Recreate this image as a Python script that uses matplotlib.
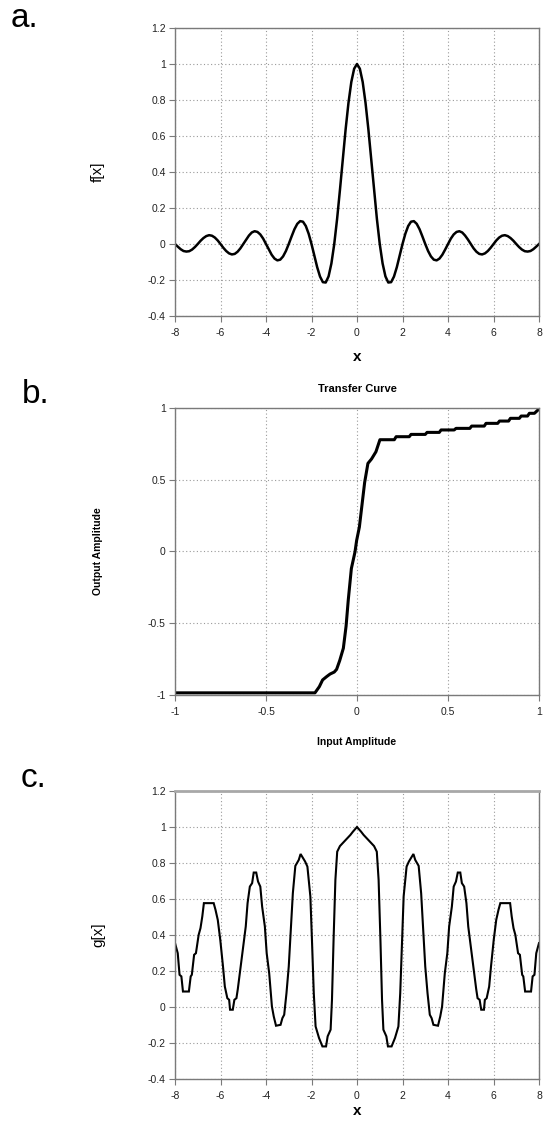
import numpy as np
import matplotlib
matplotlib.use("Agg")
import matplotlib.pyplot as plt

plt.rcParams['font.family'] = ['Liberation Sans', 'DejaVu Sans']

# ---------------- data ----------------
# panel a: f[x], sampled every 1/8 from -8 to 8
f_vals = [
    0.000, -0.015, -0.029, -0.039, -0.042, -0.040, -0.031, -0.017,
    0.000, 0.018, 0.033, 0.044, 0.049, 0.046, 0.036, 0.020,
    0.000, -0.021, -0.039, -0.052, -0.058, -0.055, -0.043, -0.024,
    0.000, 0.025, 0.047, 0.064, 0.071, 0.067, 0.053, 0.030,
    0.000, -0.031, -0.060, -0.081, -0.091, -0.087, -0.069, -0.039,
    0.000, 0.042, 0.082, 0.112, 0.127, 0.124, 0.100, 0.057,
    0.000, -0.065, -0.129, -0.181, -0.212, -0.214, -0.180, -0.108,
    0.000, 0.139, 0.300, 0.471, 0.637, 0.784, 0.900, 0.974,
    1.000,
    0.974, 0.900, 0.784, 0.637, 0.471, 0.300, 0.139, 0.000,
    -0.108, -0.180, -0.214, -0.212, -0.181, -0.129, -0.065, 0.000,
    0.057, 0.100, 0.124, 0.127, 0.112, 0.082, 0.042, 0.000,
    -0.039, -0.069, -0.087, -0.091, -0.081, -0.060, -0.031, 0.000,
    0.030, 0.053, 0.067, 0.071, 0.064, 0.047, 0.025, 0.000,
    -0.024, -0.043, -0.055, -0.058, -0.052, -0.039, -0.021, 0.000,
    0.020, 0.036, 0.046, 0.049, 0.044, 0.033, 0.018, 0.000,
    -0.017, -0.031, -0.040, -0.042, -0.039, -0.029, -0.015, 0.000,
]
f_x = np.linspace(-8, 8, len(f_vals))

# panel b: transfer curve
t_in = [-1.0, -0.231, -0.207, -0.189, -0.167, -0.148, -0.125, -0.112, -0.095,
        -0.075, -0.060, -0.048, -0.031, -0.011, -0.002, 0.013, 0.027, 0.042,
        0.060, 0.080, 0.104, 0.126, 0.205, 0.215, 0.287, 0.297, 0.375, 0.385,
        0.452, 0.462, 0.534, 0.544, 0.620, 0.630, 0.699, 0.709, 0.773, 0.783,
        0.833, 0.843, 0.892, 0.902, 0.937, 0.947, 0.975, 1.0]
t_out = [-0.985, -0.985, -0.942, -0.895, -0.872, -0.854, -0.840, -0.821, -0.760,
         -0.674, -0.520, -0.338, -0.119, -0.003, 0.077, 0.170, 0.320, 0.481,
         0.614, 0.645, 0.695, 0.779, 0.779, 0.800, 0.800, 0.816, 0.816, 0.830,
         0.830, 0.847, 0.847, 0.858, 0.858, 0.874, 0.874, 0.893, 0.893, 0.909,
         0.909, 0.928, 0.928, 0.944, 0.944, 0.963, 0.963, 0.993]

# panel c: g[x]
g_x = [-8.0, -7.88, -7.80, -7.72, -7.65, -7.39, -7.31, -7.26, -7.16, -7.08,
       -6.96, -6.88, -6.80, -6.73, -6.30, -6.22, -6.12, -6.01, -5.89, -5.81,
       -5.70, -5.62, -5.58, -5.46, -5.39, -5.30, -5.24, -5.15, -5.04, -4.89,
       -4.81, -4.71, -4.61, -4.54, -4.43, -4.35, -4.25, -4.17, -4.05, -3.97,
       -3.86, -3.74, -3.66, -3.56, -3.36, -3.28, -3.20, -3.10, -3.00, -2.90,
       -2.82, -2.71, -2.56, -2.48, -2.28, -2.18, -2.05, -1.98, -1.90, -1.82,
       -1.67, -1.52, -1.36, -1.29, -1.16, -1.10, -1.03, -0.95, -0.87, -0.75,
       -0.57, -0.43, -0.29, -0.18,
       0.0,
       0.18, 0.29, 0.43, 0.57, 0.75, 0.87, 0.95, 1.03, 1.10, 1.16,
       1.29, 1.36, 1.52, 1.67, 1.82, 1.90, 1.98, 2.05, 2.18, 2.28,
       2.48, 2.56, 2.71, 2.82, 2.90, 3.00, 3.10, 3.20, 3.28, 3.36,
       3.56, 3.66, 3.74, 3.86, 3.97, 4.05, 4.17, 4.25, 4.35, 4.43,
       4.54, 4.61, 4.71, 4.81, 4.89, 5.04, 5.15, 5.24, 5.30, 5.39,
       5.46, 5.58, 5.62, 5.70, 5.81, 5.89, 6.01, 6.12, 6.22, 6.30,
       6.73, 6.80, 6.88, 6.96, 7.08, 7.16, 7.26, 7.31, 7.39, 7.65,
       7.72, 7.80, 7.88, 8.0]
g_y = [0.355, 0.299, 0.179, 0.170, 0.086, 0.086, 0.170, 0.179, 0.290, 0.299,
       0.401, 0.438, 0.503, 0.577, 0.577, 0.540, 0.484, 0.373, 0.225, 0.114,
       0.049, 0.040, -0.015, -0.015, 0.040, 0.049, 0.099, 0.188, 0.299, 0.447,
       0.577, 0.669, 0.688, 0.747, 0.747, 0.697, 0.669, 0.558, 0.447, 0.299,
       0.188, 0.003, -0.052, -0.104, -0.099, -0.062, -0.043, 0.077, 0.225, 0.447,
       0.632, 0.784, 0.817, 0.850, 0.808, 0.780, 0.614, 0.373, 0.077, -0.108,
       -0.172, -0.219, -0.219, -0.163, -0.126, 0.040, 0.373, 0.706, 0.863, 0.894,
       0.918, 0.937, 0.956, 0.974,
       1.000,
       0.974, 0.956, 0.937, 0.918, 0.894, 0.863, 0.706, 0.373, 0.040, -0.126,
       -0.163, -0.219, -0.219, -0.172, -0.108, 0.077, 0.373, 0.614, 0.780, 0.808,
       0.850, 0.817, 0.784, 0.632, 0.447, 0.225, 0.077, -0.043, -0.062, -0.099,
       -0.104, -0.052, 0.003, 0.188, 0.299, 0.447, 0.558, 0.669, 0.697, 0.747,
       0.747, 0.688, 0.669, 0.577, 0.447, 0.299, 0.188, 0.099, 0.049, 0.040,
       -0.015, -0.015, 0.040, 0.049, 0.114, 0.225, 0.373, 0.484, 0.540, 0.577,
       0.577, 0.503, 0.438, 0.401, 0.299, 0.290, 0.179, 0.170, 0.086, 0.086,
       0.170, 0.179, 0.299, 0.355]

x_ticks_ac = [-8, -6, -4, -2, 0, 2, 4, 6, 8]
y_ticks_ac = [-0.4, -0.2, 0, 0.2, 0.4, 0.6, 0.8, 1, 1.2]
ticks_b = [-1, -0.5, 0, 0.5, 1]

# ---------------- figure ----------------
W, H = 546, 1130
fig = plt.figure(figsize=(W / 100, H / 100), dpi=100)
fig.patch.set_facecolor('white')

def px_axes(left, top, right, bottom):
    return fig.add_axes([left / W, 1 - bottom / H, (right - left) / W, (bottom - top) / H])

def fmt(v):
    s = ('%g' % v)
    return s

def style(ax, xt, yt, xlim, ylim):
    ax.set_xlim(*xlim)
    ax.set_ylim(*ylim)
    ax.set_xticks(xt)
    ax.set_yticks(yt)
    ax.set_xticklabels([fmt(v) for v in xt])
    ax.set_yticklabels([fmt(v) for v in yt])
    ax.grid(True, linestyle=(0, (1.0, 2.2)), color='#9a9a9a', linewidth=0.8)
    ax.set_axisbelow(True)
    for s in ax.spines.values():
        s.set_color('#7a7a7a')
        s.set_linewidth(1.0)
    ax.tick_params(axis='both', direction='out', length=4.2, width=0.8,
                   color='#7a7a7a', labelsize=7.5, labelcolor='#222222', pad=2.5)
    ax.tick_params(axis='x', pad=4.5)

def ftext(xp, yp, s, **kw):
    fig.text(xp / W, 1 - yp / H, s, **kw)

# panel a
axa = px_axes(175, 28, 539, 316)
style(axa, x_ticks_ac, y_ticks_ac, (-8, 8), (-0.4, 1.2))
axa.plot(f_x, f_vals, color='black', linewidth=1.8, solid_joinstyle='round')

# panel b
axb = px_axes(175, 408, 539, 695)
style(axb, ticks_b, ticks_b, (-1, 1), (-1, 1))
axb.plot(t_in, t_out, color='black', linewidth=2.2, solid_joinstyle='round')

# panel c
axc = px_axes(175, 791, 539, 1079)
style(axc, x_ticks_ac, y_ticks_ac, (-8, 8), (-0.4, 1.2))
axc.spines['top'].set_color('#a8a8a8')
axc.spines['top'].set_linewidth(2.0)
axc.plot(g_x, g_y, color='black', linewidth=1.5, solid_joinstyle='miter')

# texts
ftext(11, 27, 'a.', fontsize=24, ha='left', va='baseline')
ftext(22, 403, 'b.', fontsize=24, ha='left', va='baseline')
ftext(21, 787, 'c.', fontsize=24, ha='left', va='baseline')

ftext(98, 172, 'f[x]', fontsize=11, rotation=90, ha='center', va='center')
ftext(357, 357, 'x', fontsize=11, fontweight='bold', ha='center', va='center')

ftext(357, 389, 'Transfer Curve', fontsize=8, fontweight='bold', ha='center', va='center')
ftext(98, 551, 'Output Amplitude', fontsize=7.5, fontweight='bold', rotation=90,
      ha='center', va='center')
ftext(357, 742, 'Input Amplitude', fontsize=7.5, fontweight='bold', ha='center', va='center')

ftext(98, 935, 'g[x]', fontsize=11, rotation=90, ha='center', va='center')
ftext(357, 1111, 'x', fontsize=11, fontweight='bold', ha='center', va='center')

fig.savefig('out.png', dpi=100, facecolor='white')
